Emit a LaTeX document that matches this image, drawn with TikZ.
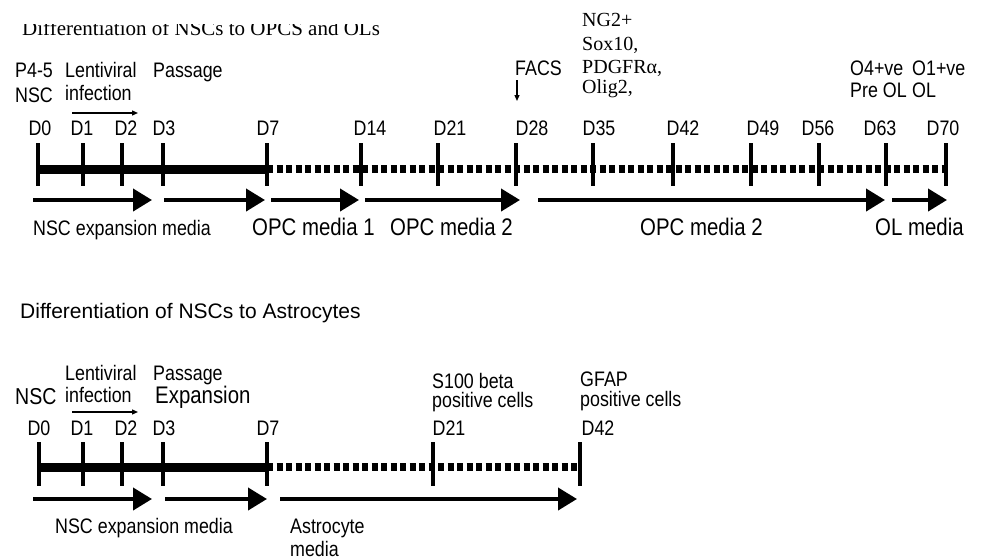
\documentclass[tikz,border=0pt]{standalone}
\usepackage{fontspec}
\setmainfont{Liberation Sans}
\newfontfamily\narrowsf[FakeStretch=0.85]{Liberation Sans}
\newfontfamily\serfont{Liberation Serif}
\usetikzlibrary{arrows.meta}

\begin{document}
\begin{tikzpicture}[x=1pt, y=-1pt,
    lab/.style={inner sep=0pt, anchor=base west, font=\narrowsf\fontsize{21}{24}\selectfont},
    biglab/.style={inner sep=0pt, anchor=base west, font=\narrowsf\fontsize{24}{28}\selectfont},
    serlab/.style={inner sep=0pt, anchor=base west, font=\serfont\fontsize{20}{24}\selectfont},
    daylab/.style={inner sep=0pt, anchor=base, font=\narrowsf\fontsize{21}{24}\selectfont},
    tickmark/.style={line width=4pt},
    solidbar/.style={line width=9pt},
    dashbar/.style={line width=8pt, dash pattern=on 6pt off 3.5pt},
    media/.style={line width=4pt, -{Triangle[length=19pt,width=22pt]}},
    thinarrow/.style={line width=1.3pt, -{Triangle[length=6pt,width=5pt]}}]
  \useasboundingbox (0,0) rectangle (989,560);

  % --- OPC / OL timeline ---
  \begin{scope}
    \clip (0,24) rectangle (989,50);
    \node[serlab, font=\serfont\fontsize{21}{24}\selectfont] (opcTitle) at (22,35) {Differentiation of NSCs to OPCS and OLs};
  \end{scope}
  \foreach \d/\x in {0/38,1/83,2/122,3/163,7/267,14/361,21/438,28/516,35/593,42/673,49/751,56/819,63/886,70/946}
    \coordinate (up\d) at (\x,169);
  \draw[solidbar] (up0) -- (up7);
  \draw[dashbar] (up7) -- (up70);
  \foreach \d in {0,1,2,3,7,14,21,28,35,42,49,56,63,70}
    \draw[tickmark] ([yshift=26pt]up\d) -- ([yshift=-17pt]up\d);
  \foreach \d/\x in {0/40,1/82,2/126,3/164,7/268,14/370,21/450,28/532,35/599,42/683,49/763,56/818,63/880,70/943}
    \node[daylab] (upD\d) at (\x,135) {D\d};
  \foreach \a/\b [count=\i] in {33/152,164/265,271/359,365/520,538/885,892/947} {
    \coordinate (ua\i) at (\a,200);
    \coordinate (ub\i) at (\b,200);
    \draw[media] (ua\i) -- (ub\i);
  }
  \node[lab] (upP) at (15,77) {P4-5};
  \node[lab] (upNSC) at (15,102) {NSC};
  \node[lab] (upLenti) at (65,77) {Lentiviral};
  \node[lab] (upInf) at (65,100) {infection};
  \node[lab] (upPass) at (153,77) {Passage};
  \coordinate (upInfA) at (72,113);
  \coordinate (upInfB) at (138,113);
  \draw[thinarrow] (upInfA) -- (upInfB);
  \node[lab] (facs) at (515,75) {FACS};
  \coordinate (facsTip) at (517,101);
  \draw[thinarrow] (517,80) -- (facsTip);
  \node[serlab] (ng2) at (582,26) {NG2+};
  \node[serlab] (sox) at (582,50) {Sox10,};
  \node[serlab] (pdgfr) at (582,73) {PDGFRα,};
  \node[serlab] (olig) at (582,93) {Olig2,};
  \node[lab] (o4) at (850,75) {O4+ve};
  \node[lab] (preOL) at (850,97) {Pre OL};
  \node[lab] (o1) at (912,75) {O1+ve};
  \node[lab] (olLab) at (912,97) {OL};
  \node[lab] (upMedA) at (33,235) {NSC expansion media};
  \node[biglab] (upMedB) at (252,235) {OPC media 1};
  \node[biglab] (upMedC) at (390,235) {OPC media 2};
  \node[biglab] (upMedD) at (640,235) {OPC media 2};
  \node[biglab] (upMedE) at (875,235) {OL media};

  % --- astrocyte timeline ---
  \node[inner sep=0pt, anchor=base west, font=\fontsize{21}{24}\selectfont] (astTitle) at (20,318) {Differentiation of NSCs to Astrocytes};
  \foreach \d/\x in {0/39,1/83,2/122,3/163,7/267,21/433,42/580}
    \coordinate (lo\d) at (\x,467);
  \draw[solidbar] (lo0) -- (lo7);
  \draw[dashbar] (lo7) -- (lo42);
  \foreach \d in {0,1,2,3,7,21,42}
    \draw[tickmark] ([yshift=25pt]lo\d) -- ([yshift=-19pt]lo\d);
  \foreach \d/\x in {0/39,1/82,2/126,3/164,7/268,21/449,42/598}
    \node[daylab] (loD\d) at (\x,435) {D\d};
  \foreach \a/\b [count=\i] in {33/152,165/267,280/577} {
    \coordinate (la\i) at (\a,499);
    \coordinate (lb\i) at (\b,499);
    \draw[media] (la\i) -- (lb\i);
  }
  \node[lab, font=\narrowsf\fontsize{23}{26}\selectfont] (loNSC) at (15,404) {NSC};
  \node[lab] (loLenti) at (65,380) {Lentiviral};
  \node[lab] (loInf) at (65,402) {infection};
  \node[lab] (loPass) at (153,380) {Passage};
  \node[biglab] (loExp) at (155,403) {Expansion};
  \coordinate (loInfA) at (72,412);
  \coordinate (loInfB) at (138,412);
  \draw[thinarrow] (loInfA) -- (loInfB);
  \node[lab] (s100) at (432,388) {S100 beta};
  \node[lab] (s100pos) at (432,407) {positive cells};
  \node[lab] (gfap) at (580,386) {GFAP};
  \node[lab] (gfappos) at (580,406) {positive cells};
  \node[lab] (loMedA) at (55,533) {NSC expansion media};
  \node[lab] (loMedB) at (290,533) {Astrocyte};
  \node[lab] (loMedC) at (290,556) {media};
\end{tikzpicture}
\end{document}
